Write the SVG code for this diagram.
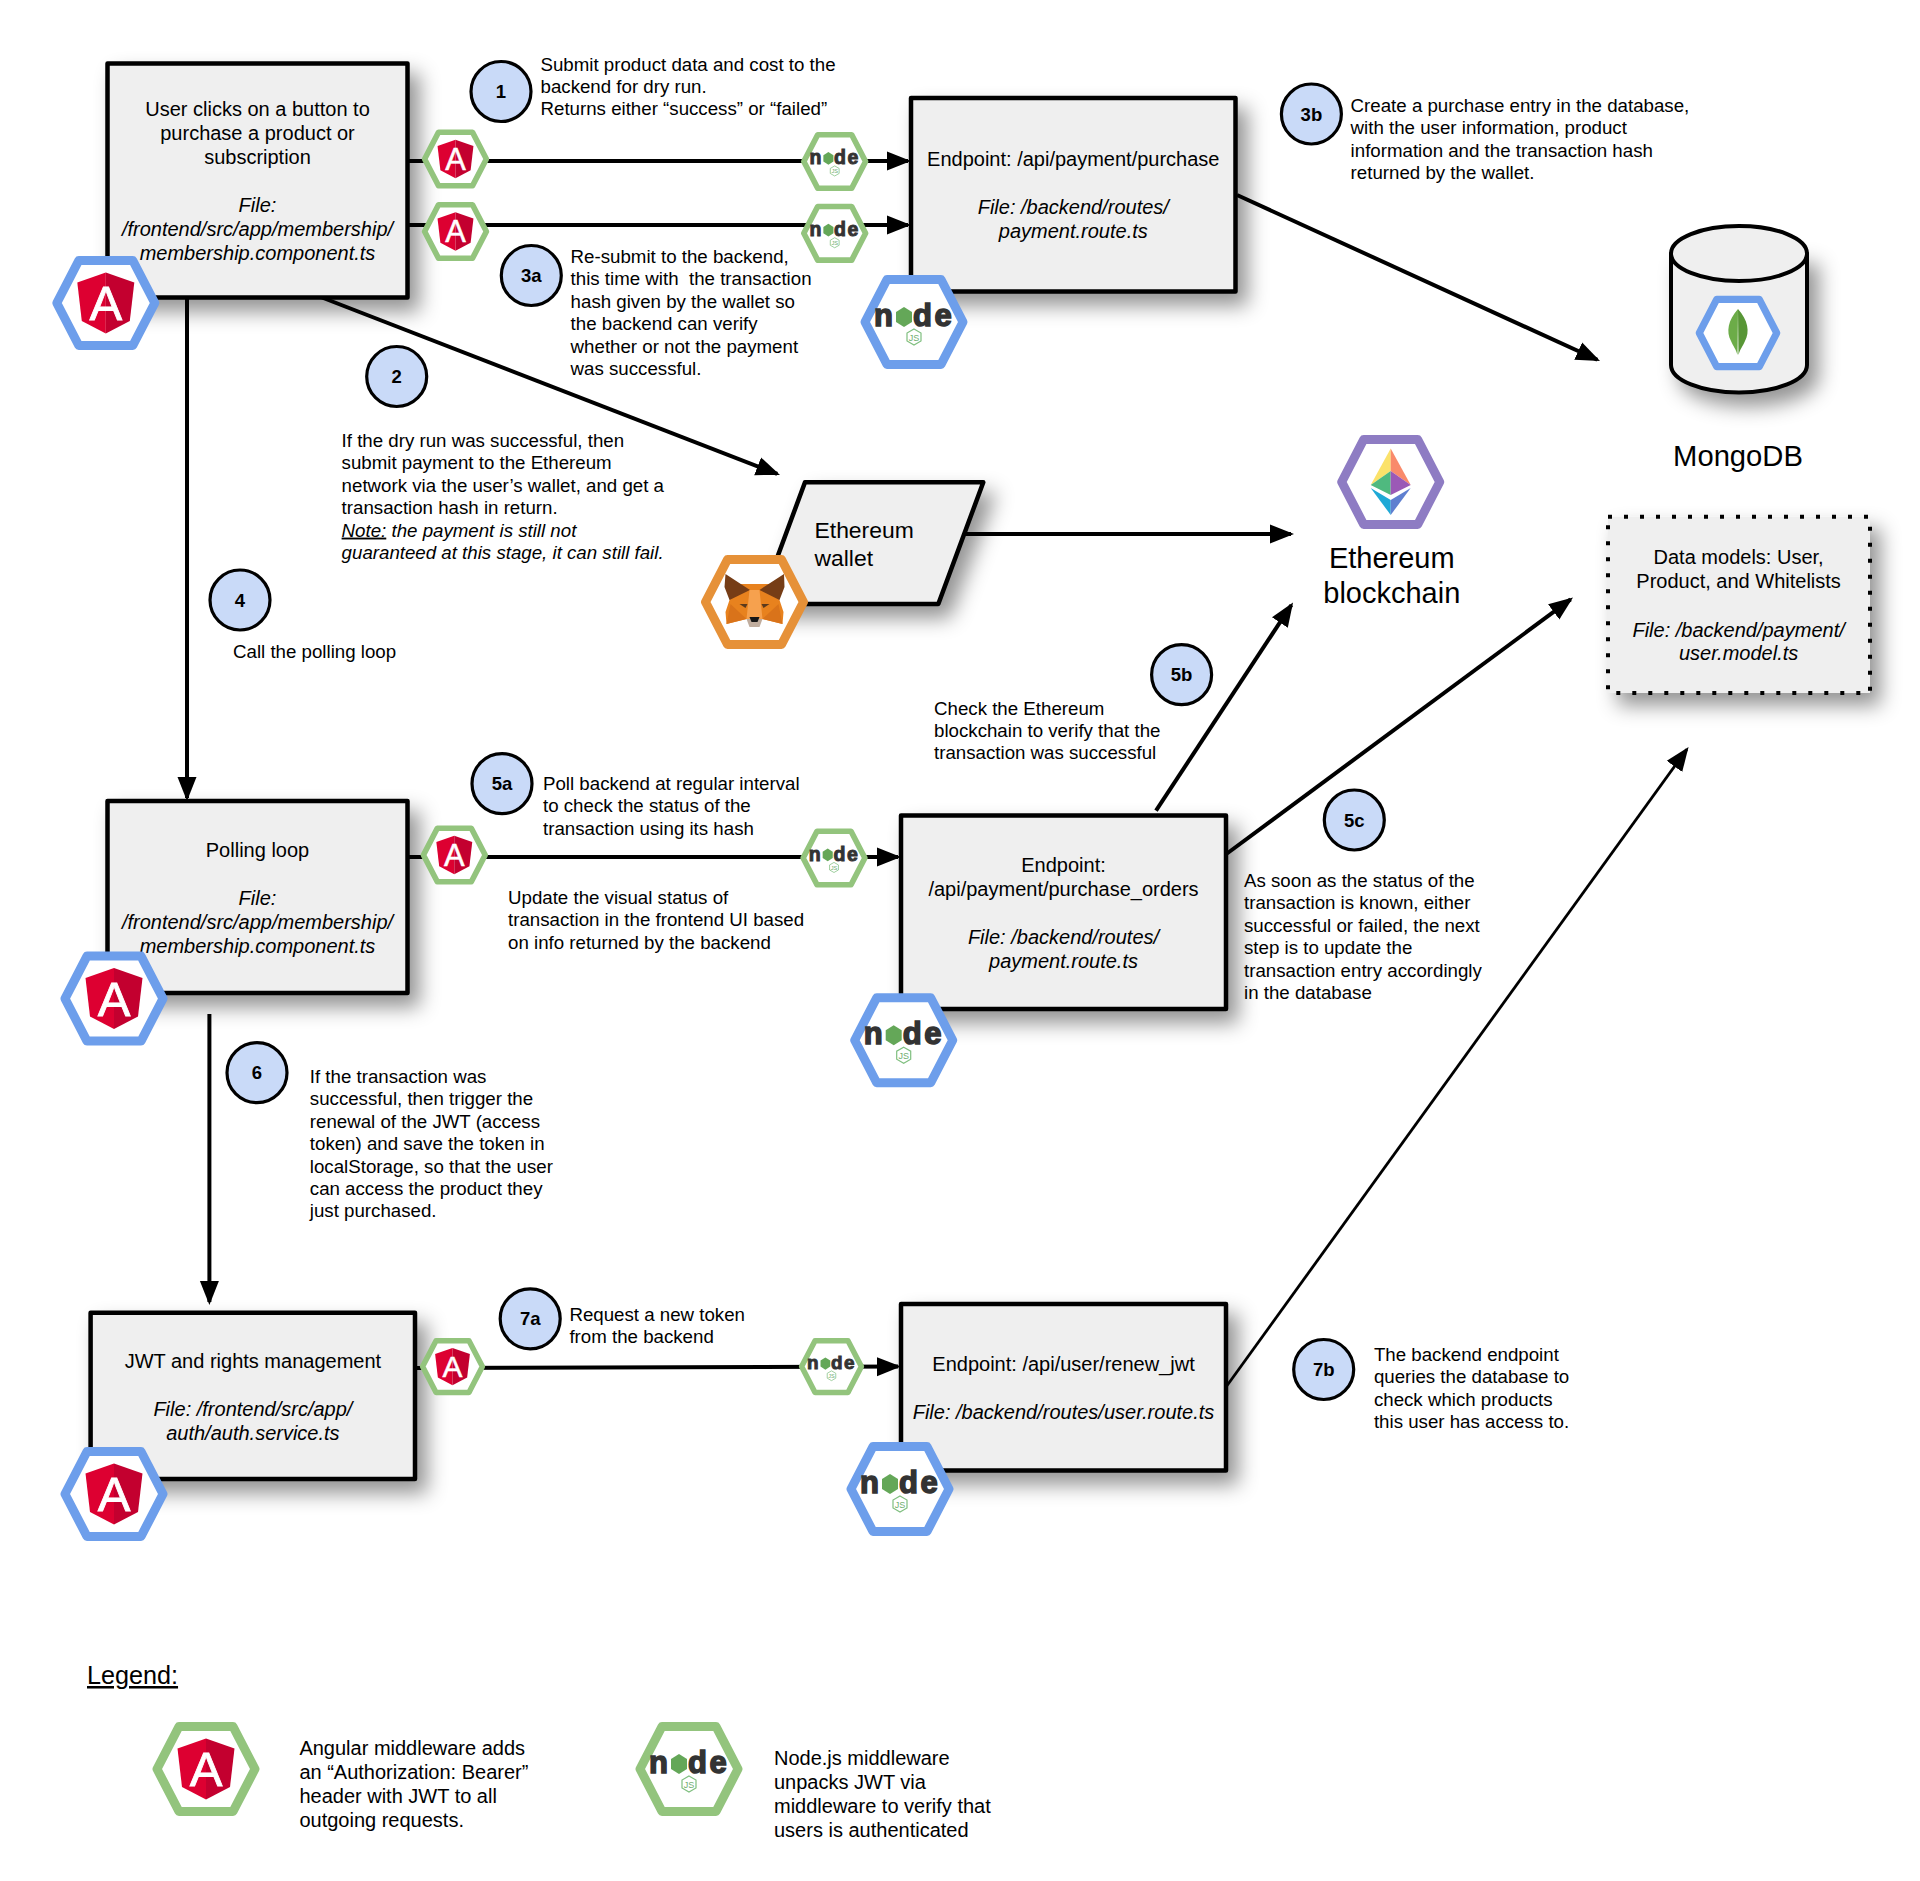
<svg xmlns="http://www.w3.org/2000/svg" width="1920" height="1881" viewBox="0 0 1920 1881">
<style>
text{font-family:"Liberation Sans",Arial,sans-serif;fill:#000}
.l{font-size:18.7px;white-space:pre}
.b{font-size:20px;text-anchor:middle}
.i{font-style:italic}
.box{fill:#efefef;stroke:#000;stroke-width:4.5;stroke-linejoin:round}
.c{fill:#c9daf8;stroke:#000;stroke-width:3.2}
.n{font-size:18.5px;font-weight:bold;text-anchor:middle}
.con{fill:none;stroke:#000;stroke-width:4}
.hx{fill:#fff;stroke-width:9;stroke-linejoin:round}
.shadow{filter:url(#sh)}
.lg{font-size:31px;font-weight:bold;fill:#333;stroke:#333;stroke-width:1.5}
.lt{font-size:20px}
</style>
<defs>
<filter id="sh" x="-20%" y="-20%" width="150%" height="150%"><feDropShadow dx="10" dy="12" stdDeviation="10" flood-color="#000" flood-opacity=".42"/></filter>
<marker id="a" markerUnits="userSpaceOnUse" markerWidth="26" markerHeight="22" refX="21" refY="10" orient="auto"><path d="M0,0.5 L24,10 L0,19.5 Z" fill="#000"/></marker>
<path id="hex" d="M-27,-42.5 H27 L49,0 L27,42.5 H-27 L-49,0 Z"/>
<g id="ng">
<path d="M0,-30.5 L-28.5,-20.5 L-24,18 L0,30.5 Z" fill="#dd0031"/>
<path d="M0,-30.5 L28.5,-20.5 L24,18 L0,30.5 Z" fill="#c3002f"/>
<text x="0" y="17" text-anchor="middle" font-size="49" style="fill:#fff;stroke:#fff;stroke-width:.8">A</text>
</g>
<g id="nd">
<text class="lg" x="-40" y="4">n</text>
<path d="M-10,-15 L-2,-10 V0 L-10,5 L-18,0 V-10 Z" fill="#64a758"/>
<text class="lg" x="-1" y="4">d</text>
<text class="lg" x="20.5" y="4">e</text>
<path d="M0,7 L7,11 V19 L0,23 L-7,19 V11 Z" fill="#fff" stroke="#7fbf7f" stroke-width="1.2"/>
<text x="0" y="19" text-anchor="middle" font-size="9" style="fill:#6fae6f">JS</text>
</g>
<g id="angB"><use href="#hex" class="hx" stroke="#6d9eeb"/><use href="#ng"/></g>
<g id="angG"><use href="#hex" class="hx" stroke="#93c47d"/><use href="#ng"/></g>
<g id="ndB"><use href="#hex" class="hx" stroke="#6d9eeb"/><use href="#nd"/></g>
<g id="ndG"><use href="#hex" class="hx" stroke="#93c47d"/><use href="#nd"/></g>
</defs>

<g id="connectors">
<path class="con" d="M407,161 H908" marker-end="url(#a)"/>
<path class="con" d="M407,225 H908" marker-end="url(#a)"/>
<path class="con" d="M187,297 V798" marker-end="url(#a)"/>
<path class="con" d="M322,297.5 L777.2,473.9" marker-end="url(#a)"/>
<path class="con" d="M964,534 H1291" marker-end="url(#a)"/>
<path class="con" d="M1237,195 L1597.3,359.8" marker-end="url(#a)"/>
<path class="con" d="M407,857 H898" marker-end="url(#a)"/>
<path class="con" d="M209.4,1014 V1302" marker-end="url(#a)"/>
<path class="con" d="M1156,810.6 L1291.4,605" marker-end="url(#a)"/>
<path class="con" d="M1227,853.5 L1570.6,599.4" marker-end="url(#a)"/>
<path class="con" style="stroke-width:2.8" d="M1226,1387 L1686.8,749.4" marker-end="url(#a)"/>
<path class="con" d="M415,1368 L898,1366.6" marker-end="url(#a)"/>
</g>

<g id="node-click">
<rect class="box shadow" x="107.5" y="63.5" width="300" height="234"/>
<text class="b" x="257.5" y="116"><tspan x="257.5">User clicks on a button to</tspan><tspan x="257.5" dy="24">purchase a product or</tspan><tspan x="257.5" dy="24">subscription</tspan></text>
<text class="b i" x="257.5" y="212"><tspan x="257.5">File:</tspan><tspan x="257.5" dy="24">/frontend/src/app/membership/</tspan><tspan x="257.5" dy="24">membership.component.ts</tspan></text>
<use href="#angB" transform="translate(105.8,303)"/>
</g>
<g id="node-purchase">
<rect class="box shadow" x="911" y="98" width="324.5" height="193.5"/>
<text class="b" x="1073.3" y="165.5">Endpoint: /api/payment/purchase</text>
<text class="b i" x="1073.3" y="213.5"><tspan x="1073.3">File: /backend/routes/</tspan><tspan x="1073.3" dy="24">payment.route.ts</tspan></text>
<use href="#ndB" transform="translate(914,322)"/>
</g>
<g id="node-polling">
<rect class="box shadow" x="107.5" y="801" width="300" height="192"/>
<text class="b" x="257.5" y="857">Polling loop</text>
<text class="b i" x="257.5" y="905"><tspan x="257.5">File:</tspan><tspan x="257.5" dy="24">/frontend/src/app/membership/</tspan><tspan x="257.5" dy="24">membership.component.ts</tspan></text>
<use href="#angB" transform="translate(114,998.6)"/>
</g>
<g id="node-orders">
<rect class="box shadow" x="901" y="815.5" width="325" height="193.5"/>
<text class="b" x="1063.5" y="872"><tspan x="1063.5">Endpoint:</tspan><tspan x="1063.5" dy="24">/api/payment/purchase_orders</tspan></text>
<text class="b i" x="1063.5" y="944"><tspan x="1063.5">File: /backend/routes/</tspan><tspan x="1063.5" dy="24">payment.route.ts</tspan></text>
<use href="#ndB" transform="translate(903.7,1040.2)"/>
</g>
<g id="node-jwt">
<rect class="box shadow" x="90.6" y="1312.7" width="324.4" height="166.3"/>
<text class="b" x="252.9" y="1368">JWT and rights management</text>
<text class="b i" x="252.9" y="1416"><tspan x="252.9">File: /frontend/src/app/</tspan><tspan x="252.9" dy="24">auth/auth.service.ts</tspan></text>
<use href="#angB" transform="translate(114,1494)"/>
</g>
<g id="node-renew">
<rect class="box shadow" x="901" y="1304" width="325" height="166.6"/>
<text class="b" x="1063.5" y="1370.5">Endpoint: /api/user/renew_jwt</text>
<text class="b i" x="1063.5" y="1418.5">File: /backend/routes/user.route.ts</text>
<use href="#ndB" transform="translate(900,1489)"/>
</g>
<g id="node-wallet">
<path class="box shadow" d="M805,482.3 H983.3 L938.3,604 H760 Z"/>
<text x="814.5" y="538.3" font-size="22.9">Ethereum</text>
<text x="814.5" y="565.7" font-size="22.9">wallet</text>
<use href="#hex" class="hx" stroke="#e69138" transform="translate(754.5,602)"/>
<g id="fox" transform="translate(754.5,602)">
<path d="M-15,-18 L15,-18 L25,-2 L29,10 L28,22 L8,17 L0,21 L-8,17 L-28,22 L-29,10 L-25,-2 Z" fill="#e8821e"/>
<path d="M-29,-28 L-4.5,-12 L-25,-2 L-30,-15 Z M29.5,-28 L5,-12 L25,-2 L30,-15 Z" fill="#763d16"/>
<path d="M-5,-12 L5,-12 L8,17 L-8,17 Z" fill="#f6a14e"/>
<path d="M-24,2 L-8,17 L-28,22 Z M24,2 L8,17 L28,22 Z" fill="#d9731a"/>
<path d="M-15,2 L-7,2 L-9,6 Z M15,2 L7,2 L9,6 Z" fill="#5b3a1d"/>
<path d="M-8,17 L8,17 L5,25 L-5,25 Z" fill="#c0ad9e"/>
<path d="M-5,15 L5,15 L3,20 L-3,20 Z" fill="#161616"/>
</g>
</g>
<g id="node-ethereum">
<use href="#hex" class="hx" stroke="#8e7cc3" transform="translate(1390.7,482)"/>
<g transform="translate(1390.7,482)">
<path d="M0,-33.5 L-20,3 L0,-11 Z" fill="#fbe26a"/>
<path d="M0,-33.5 L20,3 L0,-11 Z" fill="#f98a6b"/>
<path d="M0,-11 L-20,3 L0,13 Z" fill="#4fb97f"/>
<path d="M0,-11 L20,3 L0,13 Z" fill="#9b59b6"/>
<path d="M-20,6 L0,18 L0,33 Z" fill="#1fa9d6"/>
<path d="M20,6 L0,18 L0,33 Z" fill="#5f7fd0"/>
</g>
<text x="1391.8" y="567.7" font-size="29" text-anchor="middle">Ethereum</text>
<text x="1391.8" y="602.7" font-size="29" text-anchor="middle">blockchain</text>
</g>
<g id="node-mongodb">
<path class="box shadow" style="stroke-width:4" d="M1671,253.5 V365 A68,27.5 0 0 0 1807,365 V253.5 Z"/>
<ellipse cx="1739" cy="253.5" rx="68" ry="27.5" fill="#efefef" stroke="#000" stroke-width="4"/>
<use href="#hex" transform="translate(1738,333) scale(.79)" class="hx" stroke="#6d9eeb"/>
<path d="M1738,309 C1728,320 1726,332 1731,341 C1733,346 1736,349 1737.5,355 Z" fill="#6cac48"/>
<path d="M1738,309 C1748,320 1750,332 1745,341 C1743,346 1740,349 1738.5,355 Z" fill="#589636"/>
<text x="1738" y="466" font-size="29.2" text-anchor="middle">MongoDB</text>
</g>
<g id="node-models">
<rect x="1608" y="516.7" width="262" height="176.3" fill="#efefef" stroke="#000" stroke-width="4" stroke-dasharray="4 12" class="shadow"/>
<text class="b" x="1738.6" y="564.3"><tspan x="1738.6">Data models: User,</tspan><tspan x="1738.6" dy="24">Product, and Whitelists</tspan></text>
<text class="b i" x="1738.6" y="636.7"><tspan x="1738.6">File: /backend/payment/</tspan><tspan x="1738.6" dy="23.5">user.model.ts</tspan></text>
</g>
<g id="mw-top-angular-1"><use href="#angG" transform="translate(455.5,159) scale(.63)"/></g>
<g id="mw-top-angular-2"><use href="#angG" transform="translate(455.5,231.5) scale(.63)"/></g>
<g id="mw-top-node-1"><use href="#ndG" transform="translate(834.7,161.5) scale(.63)"/></g>
<g id="mw-top-node-2"><use href="#ndG" transform="translate(834.7,233.3) scale(.63)"/></g>
<g id="mw-mid-angular"><use href="#angG" transform="translate(454.3,855) scale(.63)"/></g>
<g id="mw-mid-node"><use href="#ndG" transform="translate(834,858) scale(.63)"/></g>
<g id="mw-low-angular"><use href="#angG" transform="translate(452.5,1366.6) scale(.61)"/></g>
<g id="mw-low-node"><use href="#ndG" transform="translate(831.5,1366.6) scale(.61)"/></g>

<g id="step-1"><circle class="c" cx="501" cy="91.5" r="30"/><text class="n" x="501" y="98">1</text>
<text class="l" y="70.5"><tspan x="540.5">Submit product data and cost to the</tspan><tspan x="540.5" dy="22.4">backend for dry run.</tspan><tspan x="540.5" dy="22.4">Returns either “success” or “failed”</tspan></text></g>
<g id="step-3a"><circle class="c" cx="531.3" cy="275.5" r="30"/><text class="n" x="531.3" y="282">3a</text>
<text class="l" y="263"><tspan x="570.6">Re-submit to the backend,</tspan><tspan x="570.6" dy="22.4">this time with  the transaction</tspan><tspan x="570.6" dy="22.4">hash given by the wallet so</tspan><tspan x="570.6" dy="22.4">the backend can verify</tspan><tspan x="570.6" dy="22.4">whether or not the payment</tspan><tspan x="570.6" dy="22.4">was successful.</tspan></text></g>
<g id="step-3b"><circle class="c" cx="1311.4" cy="114" r="30"/><text class="n" x="1311.4" y="120.5">3b</text>
<text class="l" y="112"><tspan x="1350.6">Create a purchase entry in the database,</tspan><tspan x="1350.6" dy="22.4">with the user information, product</tspan><tspan x="1350.6" dy="22.4">information and the transaction hash</tspan><tspan x="1350.6" dy="22.4">returned by the wallet.</tspan></text></g>
<g id="step-2"><circle class="c" cx="396.7" cy="376.5" r="30"/><text class="n" x="396.7" y="383">2</text>
<text class="l" y="447"><tspan x="341.6">If the dry run was successful, then</tspan><tspan x="341.6" dy="22.4">submit payment to the Ethereum</tspan><tspan x="341.6" dy="22.4">network via the user’s wallet, and get a</tspan><tspan x="341.6" dy="22.4">transaction hash in return.</tspan><tspan x="341.6" dy="22.4" class="i" text-decoration="underline">Note:</tspan><tspan class="i"> the payment is still not</tspan><tspan x="341.6" dy="22.4" class="i">guaranteed at this stage, it can still fail.</tspan></text></g>
<g id="step-4"><circle class="c" cx="240" cy="600" r="30"/><text class="n" x="240" y="606.5">4</text>
<text class="l" x="233" y="658">Call the polling loop</text></g>
<g id="step-5a"><circle class="c" cx="502" cy="783.7" r="30"/><text class="n" x="502" y="790.2">5a</text>
<text class="l" y="790"><tspan x="543">Poll backend at regular interval</tspan><tspan x="543" dy="22.4">to check the status of the</tspan><tspan x="543" dy="22.4">transaction using its hash</tspan></text>
<text class="l" y="904"><tspan x="508">Update the visual status of</tspan><tspan x="508" dy="22.4">transaction in the frontend UI based</tspan><tspan x="508" dy="22.4">on info returned by the backend</tspan></text></g>
<g id="step-5b"><circle class="c" cx="1181.6" cy="674.7" r="30"/><text class="n" x="1181.6" y="681.2">5b</text>
<text class="l" y="714.5"><tspan x="934">Check the Ethereum</tspan><tspan x="934" dy="22.4">blockchain to verify that the</tspan><tspan x="934" dy="22.4">transaction was successful</tspan></text></g>
<g id="step-5c"><circle class="c" cx="1354.3" cy="820" r="30"/><text class="n" x="1354.3" y="826.5">5c</text>
<text class="l" y="887"><tspan x="1244">As soon as the status of the</tspan><tspan x="1244" dy="22.4">transaction is known, either</tspan><tspan x="1244" dy="22.4">successful or failed, the next</tspan><tspan x="1244" dy="22.4">step is to update the</tspan><tspan x="1244" dy="22.4">transaction entry accordingly</tspan><tspan x="1244" dy="22.4">in the database</tspan></text></g>
<g id="step-6"><circle class="c" cx="257" cy="1072.7" r="30"/><text class="n" x="257" y="1079.2">6</text>
<text class="l" y="1083"><tspan x="309.8">If the transaction was</tspan><tspan x="309.8" dy="22.4">successful, then trigger the</tspan><tspan x="309.8" dy="22.4">renewal of the JWT (access</tspan><tspan x="309.8" dy="22.4">token) and save the token in</tspan><tspan x="309.8" dy="22.4">localStorage, so that the user</tspan><tspan x="309.8" dy="22.4">can access the product they</tspan><tspan x="309.8" dy="22.4">just purchased.</tspan></text></g>
<g id="step-7a"><circle class="c" cx="530.2" cy="1318.8" r="30"/><text class="n" x="530.2" y="1325.3">7a</text>
<text class="l" y="1320.5"><tspan x="569.4">Request a new token</tspan><tspan x="569.4" dy="22.4">from the backend</tspan></text></g>
<g id="step-7b"><circle class="c" cx="1323.7" cy="1369.5" r="30"/><text class="n" x="1323.7" y="1376">7b</text>
<text class="l" y="1361"><tspan x="1373.9">The backend endpoint</tspan><tspan x="1373.9" dy="22.4">queries the database to</tspan><tspan x="1373.9" dy="22.4">check which products</tspan><tspan x="1373.9" dy="22.4">this user has access to.</tspan></text></g>

<g id="legend">
<text x="87" y="1684" font-size="25.2" text-decoration="underline">Legend:</text>
<use href="#angG" transform="translate(206,1769)"/>
<text class="lt" y="1755"><tspan x="299.4">Angular middleware adds</tspan><tspan x="299.4" dy="24">an “Authorization: Bearer”</tspan><tspan x="299.4" dy="24">header with JWT to all</tspan><tspan x="299.4" dy="24">outgoing requests.</tspan></text>
<use href="#ndG" transform="translate(689,1769)"/>
<text class="lt" y="1764.5"><tspan x="774">Node.js middleware</tspan><tspan x="774" dy="24">unpacks JWT via</tspan><tspan x="774" dy="24">middleware to verify that</tspan><tspan x="774" dy="24">users is authenticated</tspan></text>
</g>
</svg>
